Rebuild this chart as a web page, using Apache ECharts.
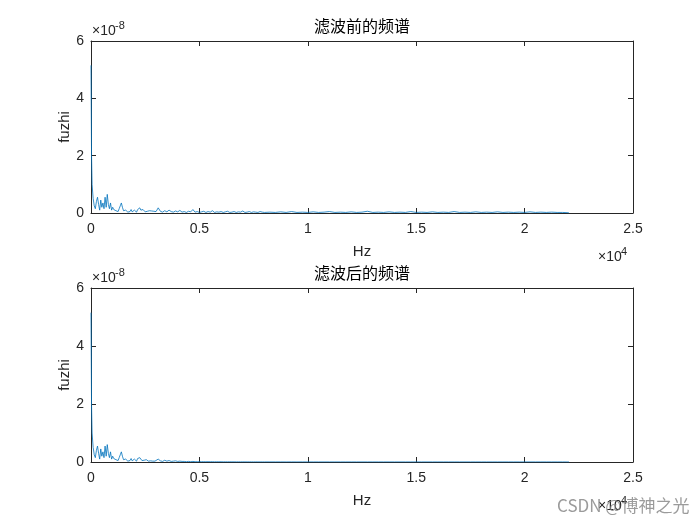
<!DOCTYPE html>
<html>
<head>
<meta charset="utf-8">
<script src="https://cdn.jsdelivr.net/npm/echarts@6/dist/echarts.min.js"></script>
<style>
  html, body { margin: 0; padding: 0; background: #fff; }
  #chart { width: 700px; height: 525px; }
</style>
</head>
<body>
<div id="chart"></div>
<script>
// frequency grid (Hz)
const freq = [
  0, 25, 50, 100, 150, 200, 250, 300, 350, 400, 450, 500, 550, 600, 650, 700, 750, 800, 850, 900,
  950, 1000, 1050, 1100, 1150, 1200, 1250, 1300, 1350, 1400, 1450, 1500, 1550, 1600, 1650, 1700,
  1750, 1800, 1850, 1900, 1950, 2000, 2050, 2100, 2150, 2200, 2250, 2300, 2350, 2400, 2450, 2500,
  2550, 2600, 2650, 2700, 2750, 2800, 2850, 2900, 2950, 3000,
  3100, 3200, 3300, 3400, 3500, 3600, 3700, 3800, 3900, 4000,
  4100, 4200, 4300, 4400, 4500, 4600, 4700, 4800, 4900, 5000,
  5100, 5200, 5300, 5400, 5500, 5600, 5700, 5800, 5900, 6000,
  6100, 6200, 6300, 6400, 6500, 6600, 6700, 6800, 6900, 7000,
  7100, 7200, 7300, 7400, 7500, 7600, 7700, 7800, 7900, 8000,
  8250, 8500, 8750, 9000, 9250, 9500, 9750, 10000, 10250, 10500,
  10750, 11000, 11250, 11500, 11750, 12000, 12250, 12500, 12750, 13000,
  13250, 13500, 13750, 14000, 14250, 14500, 14750, 15000, 15250, 15500,
  15750, 16000, 16250, 16500, 16750, 17000, 17250, 17500, 17750, 18000,
  18250, 18500, 18750, 19000, 19250, 19500, 19750, 20000, 20250, 20500,
  20750, 21000, 21250, 21500, 21750, 22000, 22050
]

// amplitude before filtering (x 1e-8)
const ampBefore = [
  5.15, 2.0, 1.0, 0.5, 0.25, 0.15, 0.4, 0.55, 0.3, 0.1, 0.45, 0.2, 0.35, 0.15, 0.55, 0.2, 0.65, 0.3, 0.15, 0.35,
  0.1, 0.2, 0.12, 0.18, 0.08, 0.12, 0.05, 0.15, 0.25, 0.35, 0.2, 0.08, 0.04, 0.1, 0.06, 0.03,
  0.08, 0.05, 0.12, 0.04, 0.08, 0.1, 0.05, 0.03, 0.12, 0.06, 0.18, 0.1, 0.05, 0.12, 0.07, 0.04,
  0.1, 0.06, 0.03, 0.08, 0.05, 0.07, 0.04, 0.06, 0.03, 0.05,
  0.18, 0.06, 0.03, 0.08, 0.04, 0.1, 0.05, 0.03, 0.07, 0.04,
  0.09, 0.03, 0.05, 0.02, 0.06, 0.04, 0.12, 0.03, 0.05, 0.02,
  0.04, 0.06, 0.02, 0.05, 0.03, 0.08, 0.02, 0.04, 0.03, 0.05,
  0.02, 0.04, 0.06, 0.02, 0.03, 0.05, 0.02, 0.04, 0.03, 0.07,
  0.02, 0.03, 0.05, 0.02, 0.04, 0.03, 0.02, 0.05, 0.03, 0.02,
  0.03, 0.02, 0.04, 0.02, 0.05, 0.02, 0.03, 0.02, 0.04, 0.02,
  0.03, 0.05, 0.02, 0.03, 0.02, 0.04, 0.02, 0.03, 0.06, 0.02,
  0.03, 0.02, 0.04, 0.02, 0.03, 0.02, 0.05, 0.02, 0.03, 0.02,
  0.04, 0.02, 0.03, 0.02, 0.05, 0.02, 0.03, 0.02, 0.04, 0.02,
  0.03, 0.02, 0.04, 0.02, 0.03, 0.02, 0.03, 0.02, 0.04, 0.02,
  0.03, 0.02, 0.03, 0.02, 0.02, 0.01, 0
]

// amplitude after filtering (x 1e-8)
const ampAfter = [
  5.15, 1.95, 1.0, 0.5, 0.25, 0.15, 0.4, 0.55, 0.3, 0.1, 0.45, 0.2, 0.35, 0.15, 0.55, 0.2, 0.6, 0.3, 0.15, 0.35,
  0.1, 0.2, 0.12, 0.18, 0.08, 0.12, 0.05, 0.15, 0.25, 0.35, 0.2, 0.08, 0.04, 0.1, 0.06, 0.03,
  0.08, 0.05, 0.12, 0.04, 0.08, 0.1, 0.05, 0.03, 0.12, 0.06, 0.15, 0.1, 0.05, 0.1, 0.06, 0.04,
  0.08, 0.05, 0.03, 0.07, 0.04, 0.06, 0.03, 0.05, 0.03, 0.04,
  0.1, 0.04, 0.02, 0.06, 0.03, 0.05, 0.02, 0.03, 0.04, 0.02,
  0.03, 0.02, 0.02, 0.01, 0.02, 0.01, 0.02, 0.01, 0.01, 0.01,
  0.01, 0.01, 0.008, 0.01, 0.008, 0.01, 0.006, 0.008, 0.006, 0.008,
  0.005, 0.006, 0.005, 0.006, 0.005, 0.005, 0.004, 0.005, 0.004, 0.005,
  0.004, 0.004, 0.004, 0.004, 0.003, 0.004, 0.003, 0.003, 0.003, 0.003,
  0.003, 0.003, 0.003, 0.002, 0.003, 0.002, 0.003, 0.002, 0.002, 0.002,
  0.002, 0.002, 0.002, 0.002, 0.002, 0.002, 0.002, 0.002, 0.002, 0.002,
  0.002, 0.002, 0.002, 0.002, 0.002, 0.002, 0.002, 0.002, 0.002, 0.002,
  0.002, 0.002, 0.002, 0.002, 0.002, 0.002, 0.002, 0.002, 0.002, 0.002,
  0.002, 0.002, 0.002, 0.002, 0.002, 0.002, 0.002, 0.002, 0.002, 0.002,
  0.002, 0.002, 0.002, 0.002, 0.002, 0.001, 0
]

const titles = ['滤波前的频谱', '滤波后的频谱']
const xTicks = { min: 0, max: 25000, interval: 5000 }
const yTicks = { min: 0, max: 6, interval: 2 }

const ink = '#262626'
const font = '"Liberation Sans", Arial, Helvetica, sans-serif'
const cjk = '"Noto Sans CJK SC", "Noto Sans", sans-serif'

const grids = [
  { left: 91, top: 41, width: 542, height: 172 },
  { left: 91, top: 288, width: 542, height: 174 }
]

function pairs(amp) {
  return freq.map((f, i) => [f, amp[i]])
}

const xAxes = []
const yAxes = []
grids.forEach((g, i) => {
  xAxes.push({
    gridIndex: i, type: 'value', ...xTicks, position: 'bottom',
    name: 'Hz', nameLocation: 'middle', nameGap: 31,
    nameTextStyle: { color: ink, fontFamily: font, fontSize: 15 },
    axisLine: { onZero: false, lineStyle: { color: ink, width: 1 } },
    axisTick: { inside: true, length: 5, lineStyle: { color: ink } },
    axisLabel: { color: ink, fontFamily: font, fontSize: 14, margin: 9,
      formatter: v => String(v / 10000) },
    splitLine: { show: false }
  })
  xAxes.push({
    gridIndex: i, type: 'value', ...xTicks, position: 'top',
    axisLine: { onZero: false, lineStyle: { color: ink, width: 1 } },
    axisTick: { inside: true, length: 5, lineStyle: { color: ink } },
    axisLabel: { show: false }, splitLine: { show: false }
  })
  yAxes.push({
    gridIndex: i, type: 'value', ...yTicks, position: 'left',
    axisLine: { onZero: false, lineStyle: { color: ink, width: 1 } },
    axisTick: { inside: true, length: 5, lineStyle: { color: ink } },
    axisLabel: { color: ink, fontFamily: font, fontSize: 14, margin: 7 },
    splitLine: { show: false }
  })
  yAxes.push({
    gridIndex: i, type: 'value', ...yTicks, position: 'right',
    axisLine: { onZero: false, lineStyle: { color: ink, width: 1 } },
    axisTick: { inside: true, length: 5, lineStyle: { color: ink } },
    axisLabel: { show: false }, splitLine: { show: false }
  })
})

// y names, exponent labels and titles
const graphic = []
grids.forEach((g, i) => {
  graphic.push({ type: 'text', x: 65, y: g.top + g.height / 2, rotation: Math.PI / 2,
    style: { text: 'fuzhi', font: '15px ' + font, fill: ink, align: 'center', verticalAlign: 'middle' } })
  graphic.push({ type: 'text', left: 314, top: g.top - 23,
    style: { text: titles[i], font: '16px ' + cjk, fill: '#000' } })
  graphic.push({ type: 'text', left: 92, top: g.top - 17,
    style: { text: '×10', font: '14px ' + font, fill: ink } })
  graphic.push({ type: 'text', left: 115, top: g.top - 21,
    style: { text: '-8', font: '11px ' + font, fill: ink } })
  graphic.push({ type: 'text', left: 598, top: g.top + g.height + 37,
    style: { text: '×10', font: '14px ' + font, fill: ink } })
  graphic.push({ type: 'text', left: 621, top: g.top + g.height + 33,
    style: { text: '4', font: '11px ' + font, fill: ink } })
})
graphic.push({ type: 'text', left: 557, top: 497,
  style: { text: 'CSDN @博神之光', font: '17px ' + cjk, fill: 'rgba(130,130,130,0.8)' } })

const chart = echarts.init(document.getElementById('chart'), null, { renderer: 'canvas' })
chart.setOption({
  animation: false,
  backgroundColor: '#fff',
  grid: grids,
  xAxis: xAxes,
  yAxis: yAxes,
  graphic: graphic,
  series: [
    { type: 'line', xAxisIndex: 0, yAxisIndex: 0, data: pairs(ampBefore), showSymbol: false,
      lineStyle: { color: '#0072BD', width: 0.8 }, clip: true },
    { type: 'line', xAxisIndex: 2, yAxisIndex: 2, data: pairs(ampAfter), showSymbol: false,
      lineStyle: { color: '#0072BD', width: 0.8 }, clip: true }
  ]
})
</script>
</body>
</html>
